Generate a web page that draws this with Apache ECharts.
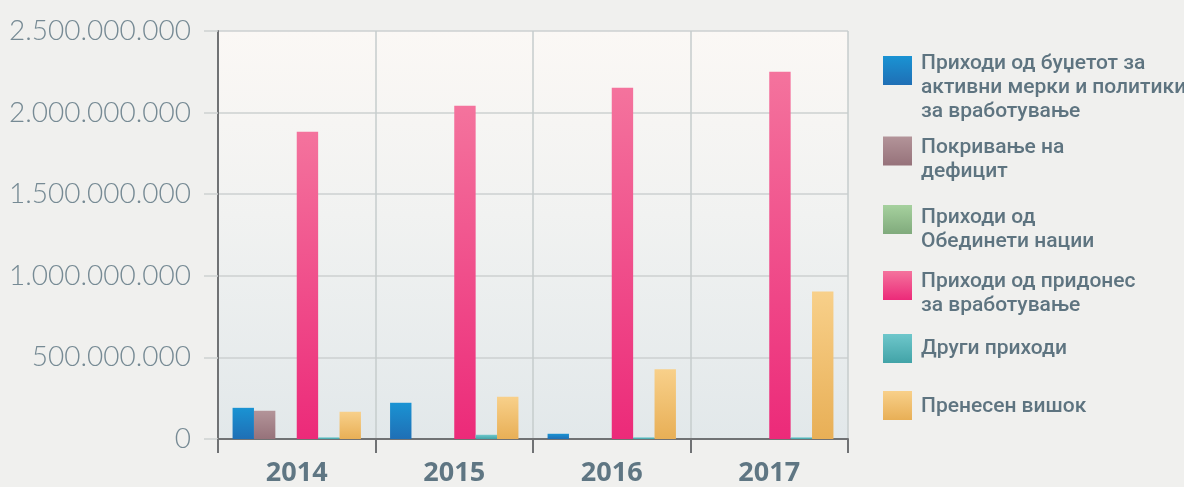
<!DOCTYPE html>
<html>
<head>
<meta charset="utf-8">
<script src="https://cdn.jsdelivr.net/npm/echarts@6/dist/echarts.min.js"></script>
<style>
html,body{margin:0;padding:0;background:#f0f0ee;}
#c{width:1184px;height:487px;}
</style>
</head>
<body>
<div id="c"></div>
<script>
const categories = ['2014', '2015', '2016', '2017'];
const seriesNames = [
  'Приходи од буџетот за активни мерки и политики за вработување',
  'Покривање на дефицит',
  'Приходи од Обединети нации',
  'Приходи од придонес за вработување',
  'Други приходи',
  'Пренесен вишок'
];
const legendLines = [
  ['Приходи од буџетот за', 'активни мерки и политики', 'за вработување'],
  ['Покривање на', 'дефицит'],
  ['Приходи од', 'Обединети нации'],
  ['Приходи од придонес', 'за вработување'],
  ['Други приходи'],
  ['Пренесен вишок']
];
const budgetActive = [191000000, 222000000, 32000000, 0];
const deficitCover = [173000000, 0, 0, 0];
const unitedNations = [0, 0, 0, 0];
const contributions = [1883000000, 2042000000, 2152000000, 2250000000];
const otherIncome = [10000000, 26000000, 10000000, 10000000];
const carriedSurplus = [167000000, 259000000, 427000000, 904000000];
const yTicks = [0, 500000000, 1000000000, 1500000000, 2000000000, 2500000000];

const seriesData = [budgetActive, deficitCover, unitedNations, contributions, otherIncome, carriedSurplus];
const colorPairs = [
  ['#1a93d3', '#1f6fb5'],
  ['#b39499', '#96727a'],
  ['#a6d19e', '#80aa7c'],
  ['#f4739d', '#ec2a79'],
  ['#6ec7cb', '#42a3a7'],
  ['#f8d08a', '#e8af56']
];
function grad(c) {
  return new echarts.graphic.LinearGradient(0, 0, 0, 1, [
    {offset: 0, color: c[0]}, {offset: 1, color: c[1]}
  ]);
}
function fmt(v) {
  return String(v).replace(/\B(?=(\d{3})+(?!\d))/g, '.');
}

// legend layout: [top, extra space above text]
const legendLayout = [[17, 35], [118, 18], [185, 21], [253, 17], [334, 0], [391, 2]];
const legends = seriesNames.map((n, i) => {
  const pad = legendLayout[i][1];
  const lines = legendLines[i].map(s => '{t|' + s + '}');
  const text = (pad > 0 ? '{p| }\n' : '') + lines.join('\n');
  return {
    data: [n],
    left: 883,
    top: legendLayout[i][0],
    orient: 'vertical',
    padding: 0,
    itemWidth: 29,
    itemHeight: 29,
    icon: 'rect',
    selectedMode: false,
    formatter: () => text,
    textStyle: {
      fontFamily: 'Roboto, sans-serif',
      fontWeight: 500,
      fontSize: 21,
      lineHeight: 24,
      color: '#5e7480',
      rich: {
        p: {fontSize: 1, lineHeight: Math.max(pad, 1)},
        t: {
          fontFamily: 'Roboto, sans-serif',
          fontWeight: 500,
          fontSize: 21,
          lineHeight: 24,
          color: '#5e7480',
          padding: [0, 0, 0, 4]
        }
      }
    }
  };
});

const chart = echarts.init(document.getElementById('c'));
chart.setOption({
  backgroundColor: '#f0f0ee',
  animation: false,
  legend: legends,
  grid: {
    left: 218, right: 336, top: 31, bottom: 48,
    show: true,
    borderWidth: 0,
    backgroundColor: new echarts.graphic.LinearGradient(0, 0, 0, 1, [
      {offset: 0, color: '#fbf8f5'},
      {offset: 0.45, color: '#f1f2f1'},
      {offset: 1, color: '#e2e8ea'}
    ])
  },
  xAxis: {
    type: 'category',
    data: categories,
    axisLine: {lineStyle: {color: '#707274', width: 2}},
    axisTick: {show: true, length: 14, lineStyle: {color: '#707274', width: 2}},
    splitLine: {show: true, lineStyle: {color: '#c6cccd', width: 1.5}},
    axisLabel: {
      margin: 21,
      fontFamily: '"Open Sans", sans-serif',
      fontWeight: 'bold',
      fontSize: 27,
      color: '#5f7683'
    }
  },
  yAxis: {
    type: 'value',
    min: 0,
    max: 2500000000,
    interval: 500000000,
    axisLine: {show: true, lineStyle: {color: '#707274', width: 2}},
    axisTick: {show: true, length: 14, lineStyle: {color: '#cdd1d1', width: 1.5}},
    splitLine: {lineStyle: {color: '#cdd1d1', width: 1.5}},
    axisLabel: {
      margin: 27,
      fontFamily: 'Lato, sans-serif',
      fontWeight: 300,
      fontSize: 28,
      color: '#768a94',
      formatter: v => yTicks.indexOf(v) >= 0 ? fmt(v) : ''
    }
  },
  series: seriesNames.map((n, i) => ({
    name: n,
    type: 'bar',
    data: seriesData[i],
    barGap: '0%',
    barCategoryGap: '18.5%',
    itemStyle: {color: grad(colorPairs[i])}
  }))
});
</script>
</body>
</html>
